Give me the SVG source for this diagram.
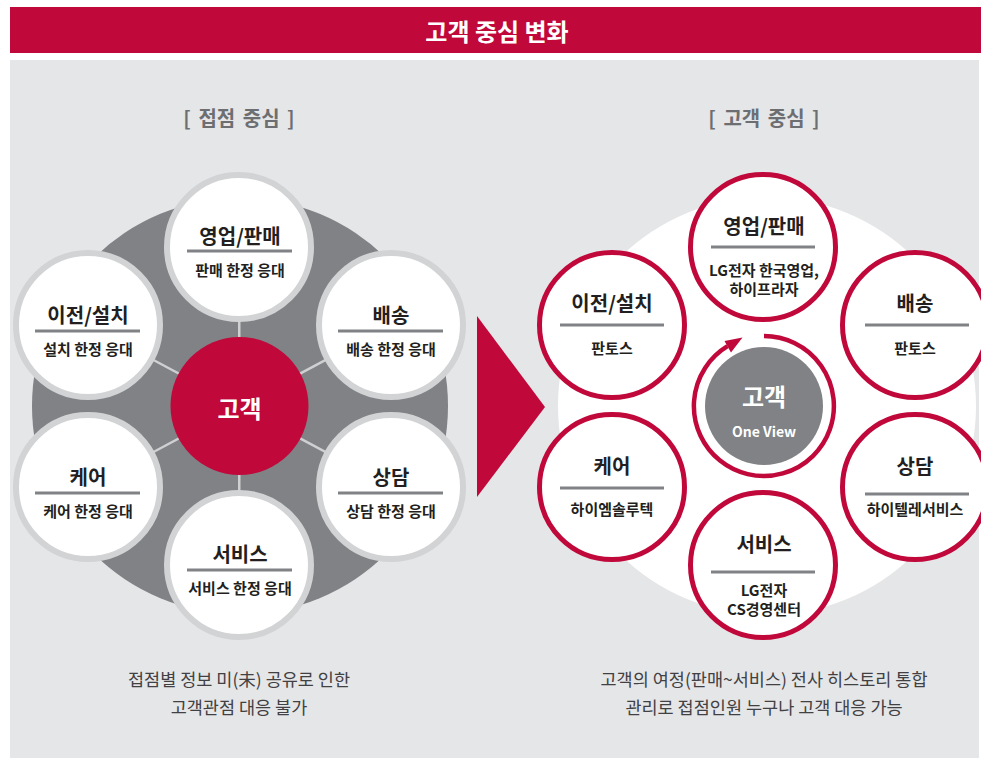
<svg xmlns="http://www.w3.org/2000/svg" width="981" height="758" viewBox="0 0 981 758">
<style>
.k{font-family:"Noto Sans CJK KR","Noto Sans",sans-serif;text-anchor:middle;dominant-baseline:central}
.b{font-weight:700}
.ttl{font-size:20px;font-weight:700;fill:#231f20}
.sub{font-size:15px;font-weight:700;fill:#231f20}
.lc{fill:#fff;stroke:#d1d3d4;stroke-width:6}
.rc{fill:#fff;stroke:#c0083b;stroke-width:5}
.ul{stroke:#808285;stroke-width:3}
.spk{stroke:#cfd0d2;stroke-width:2.5}
.cap{font-size:17.5px;fill:#414042}
.brk{font-size:20px;font-weight:700;fill:#6d6e71;word-spacing:3px}
</style>
<rect x="0" y="0" width="981" height="758" fill="#fff"/>
<rect x="10" y="7" width="971" height="46" fill="#c0083b"/>
<text class="k b" x="497" y="30" font-size="24" fill="#fff">고객 중심 변화</text>
<rect x="10" y="60" width="969" height="698" fill="#e5e6e8"/>

<text class="k brk" x="239" y="117">[ 접점 중심 ]</text>
<text class="k brk" x="764" y="117">[ 고객 중심 ]</text>

<!-- left diagram -->
<circle id="left-base" cx="240" cy="406" r="208" fill="#808285"/>
<g id="left-connectors">
<line class="spk" x1="239.5" y1="406" x2="239" y2="247"/>
<line class="spk" x1="239.5" y1="406" x2="88" y2="325"/>
<line class="spk" x1="239.5" y1="406" x2="391" y2="325"/>
<line class="spk" x1="239.5" y1="406" x2="88" y2="487"/>
<line class="spk" x1="239.5" y1="406" x2="391" y2="487"/>
<line class="spk" x1="239.5" y1="406" x2="239" y2="565"/>
</g>
<g id="l-center">
<circle cx="239.5" cy="406" r="69" fill="#c0083b"/>
<text class="k b" x="239.5" y="407" font-size="24" fill="#fff">고객</text>
</g>
<g id="l-sales">
<circle class="lc" cx="239" cy="247" r="72"/>
<text class="k ttl" x="240" y="235">영업/판매</text>
<line class="ul" x1="187" y1="251" x2="292" y2="251"/>
<text class="k sub" x="240" y="269">판매 한정 응대</text>
</g>
<g id="l-install">
<circle class="lc" cx="88" cy="325" r="72"/>
<text class="k ttl" x="88" y="314">이전/설치</text>
<line class="ul" x1="35" y1="331" x2="140" y2="331"/>
<text class="k sub" x="88" y="348">설치 한정 응대</text>
</g>
<g id="l-delivery">
<circle class="lc" cx="391" cy="325" r="72"/>
<text class="k ttl" x="391" y="314">배송</text>
<line class="ul" x1="338" y1="331" x2="443" y2="331"/>
<text class="k sub" x="391" y="348">배송 한정 응대</text>
</g>
<g id="l-care">
<circle class="lc" cx="88" cy="487" r="72"/>
<text class="k ttl" x="88" y="476">케어</text>
<line class="ul" x1="35" y1="493" x2="140" y2="493"/>
<text class="k sub" x="88" y="510">케어 한정 응대</text>
</g>
<g id="l-consult">
<circle class="lc" cx="391" cy="487" r="72"/>
<text class="k ttl" x="391" y="476">상담</text>
<line class="ul" x1="338" y1="493" x2="443" y2="493"/>
<text class="k sub" x="391" y="510">상담 한정 응대</text>
</g>
<g id="l-service">
<circle class="lc" cx="239" cy="565" r="72"/>
<text class="k ttl" x="240" y="553">서비스</text>
<line class="ul" x1="187" y1="570" x2="292" y2="570"/>
<text class="k sub" x="240" y="587">서비스 한정 응대</text>
</g>

<!-- big arrow -->
<polygon id="arrow" points="477,316 545,407 477,497" fill="#c0083b"/>

<!-- right diagram -->
<circle id="right-base" cx="767" cy="406" r="209" fill="#fff"/>
<g id="r-center">
<circle cx="764" cy="406" r="59" fill="#808285"/>
<text class="k b" x="764" y="395" font-size="24" fill="#fff">고객</text>
<text class="k b" x="764" y="431" font-size="14" fill="#fff">One View</text>
</g>
<g id="r-connectors">
<path d="M 764 336 A 70 70 0 1 1 727.5 346.2" fill="none" stroke="#c0083b" stroke-width="4.5"/>
<polygon points="742.5,337.5 724.5,341 731,352.5" fill="#c0083b"/>
</g>
<g id="r-sales">
<circle class="rc" cx="763" cy="247" r="72.5"/>
<text class="k ttl" x="764" y="225">영업/판매</text>
<line class="ul" x1="711" y1="247" x2="815" y2="247"/>
<text class="k sub" x="764" y="269">LG전자 한국영업,</text>
<text class="k sub" x="764" y="288">하이프라자</text>
</g>
<g id="r-install">
<circle class="rc" cx="612" cy="325" r="72.5"/>
<text class="k ttl" x="612" y="302">이전/설치</text>
<line class="ul" x1="560" y1="325" x2="664" y2="325"/>
<text class="k sub" x="612" y="347">판토스</text>
</g>
<g id="r-delivery">
<circle class="rc" cx="915" cy="325" r="72.5"/>
<text class="k ttl" x="915" y="302">배송</text>
<line class="ul" x1="865" y1="325" x2="969" y2="325"/>
<text class="k sub" x="915" y="347">판토스</text>
</g>
<g id="r-care">
<circle class="rc" cx="612" cy="487" r="72.5"/>
<text class="k ttl" x="612" y="465">케어</text>
<line class="ul" x1="560" y1="488" x2="664" y2="488"/>
<text class="k sub" x="612" y="508">하이엠솔루텍</text>
</g>
<g id="r-consult">
<circle class="rc" cx="915" cy="487" r="72.5"/>
<text class="k ttl" x="915" y="465">상담</text>
<line class="ul" x1="865" y1="494" x2="969" y2="494"/>
<text class="k sub" x="915" y="508">하이텔레서비스</text>
</g>
<g id="r-service">
<circle class="rc" cx="763" cy="565" r="72.5"/>
<text class="k ttl" x="764" y="543">서비스</text>
<line class="ul" x1="711" y1="572" x2="815" y2="572"/>
<text class="k sub" x="764" y="589">LG전자</text>
<text class="k sub" x="764" y="608">CS경영센터</text>
</g>

<text class="k cap" x="239" y="678">접점별 정보 미(未) 공유로 인한</text>
<text class="k cap" x="239" y="706">고객관점 대응 불가</text>
<text class="k cap" x="764" y="678">고객의 여정(판매~서비스) 전사 히스토리 통합</text>
<text class="k cap" x="764" y="706">관리로 접점인원 누구나 고객 대응 가능</text>
</svg>
